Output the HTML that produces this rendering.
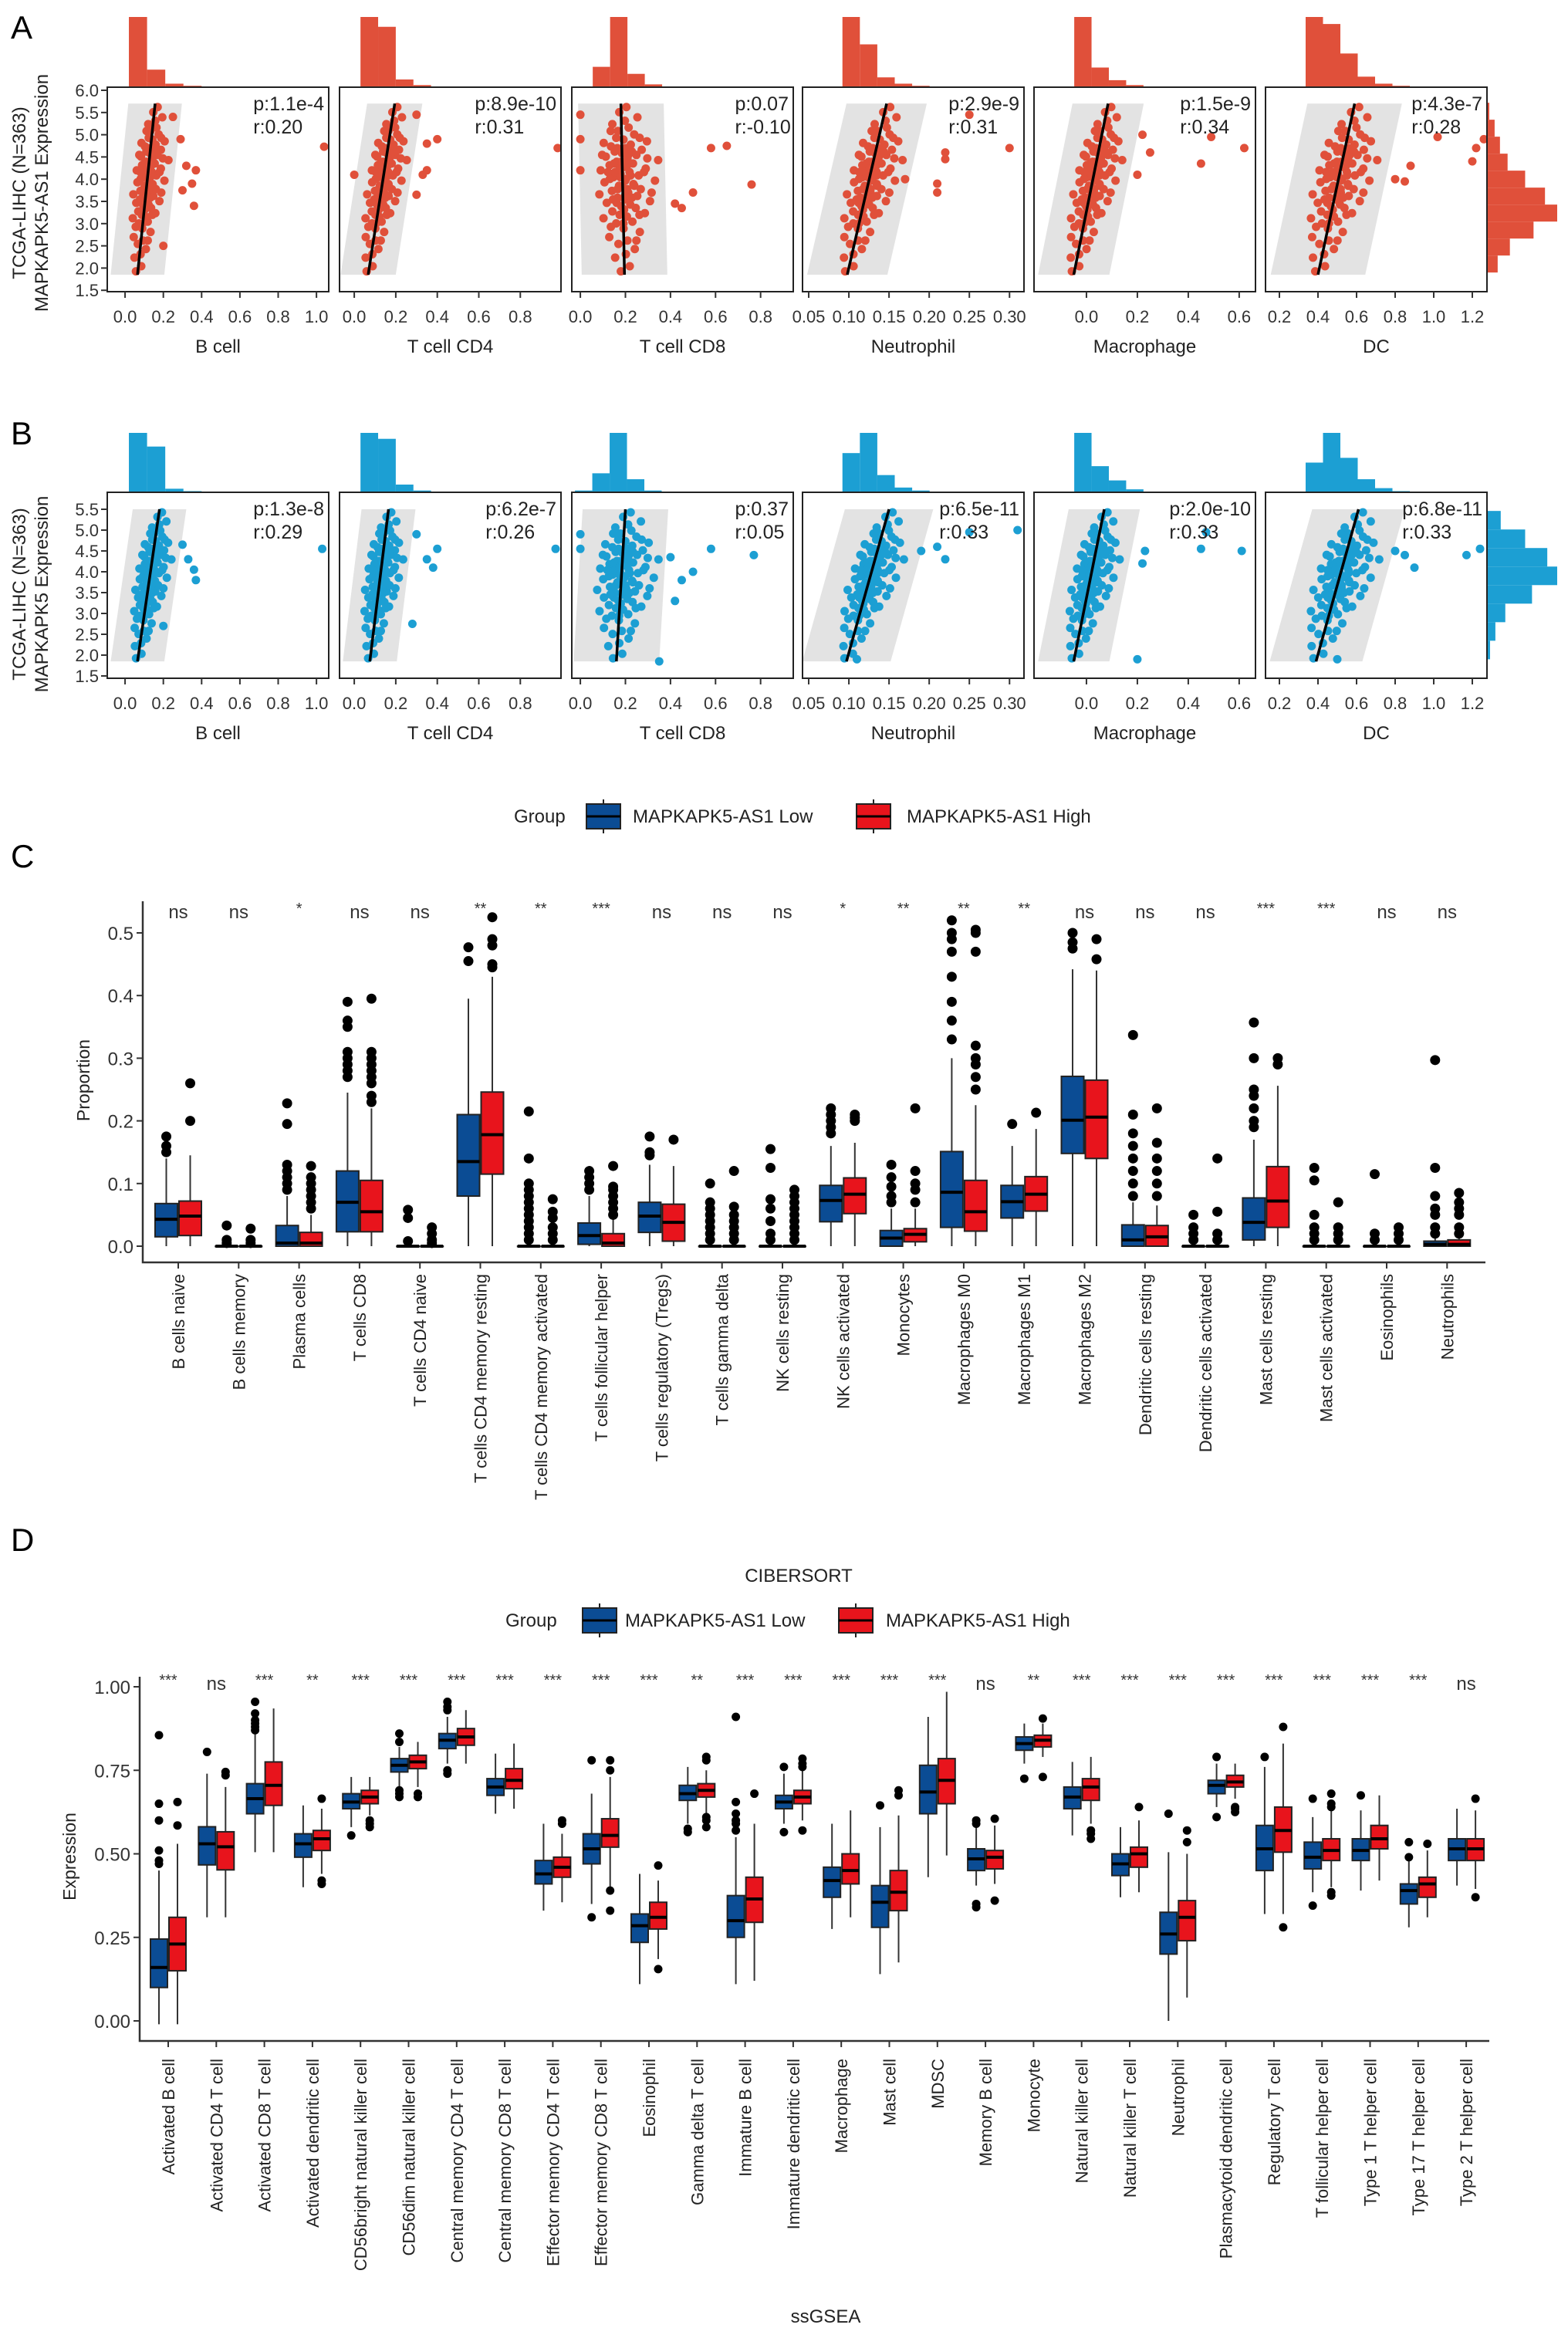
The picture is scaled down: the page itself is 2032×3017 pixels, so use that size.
<!DOCTYPE html>
<html><head><meta charset="utf-8">
<style>
html,body{margin:0;padding:0;background:#fff;}
svg{display:block;font-family:"Liberation Sans",Arial,sans-serif;}
</style></head>
<body>
<svg id="fig" xmlns="http://www.w3.org/2000/svg" width="2032" height="3017" viewBox="0 0 2032 3017"></svg>
<script>
// ---------------- DATA: scatter panels A/B ----------------
const scatterCellTypes = ['B cell','T cell CD4','T cell CD8','Neutrophil','Macrophage','DC'];
const pValuesA = ['p:1.1e-4','p:8.9e-10','p:0.07','p:2.9e-9','p:1.5e-9','p:4.3e-7'];
const rValuesA = ['r:0.20','r:0.31','r:-0.10','r:0.31','r:0.34','r:0.28'];
const pValuesB = ['p:1.3e-8','p:6.2e-7','p:0.37','p:6.5e-11','p:2.0e-10','p:6.8e-11'];
const rValuesB = ['r:0.29','r:0.26','r:0.05','r:0.33','r:0.33','r:0.33'];
const xDomains = [[-0.093,1.064],[-0.071,0.996],[-0.038,0.945],[0.0423,0.318],[-0.206,0.664],[0.128,1.276]];
const xTickVals = [[0,0.2,0.4,0.6,0.8,1.0],[0,0.2,0.4,0.6,0.8],[0,0.2,0.4,0.6,0.8],[0.05,0.10,0.15,0.20,0.25,0.30],[0,0.2,0.4,0.6],[0.2,0.4,0.6,0.8,1.0,1.2]];
const xTickDigits = [1,1,1,2,1,1];
const yTicksA = [1.5,2.0,2.5,3.0,3.5,4.0,4.5,5.0,5.5,6.0];
const yTicksB = [1.5,2.0,2.5,3.0,3.5,4.0,4.5,5.0,5.5];
const fitA = [[0.065,0.157],[0.067,0.195],[0.196,0.18],[0.098,0.147],[-0.05,0.085],[0.40,0.59]];
const fitB = [[0.065,0.18],[0.075,0.165],[0.16,0.20],[0.097,0.15],[-0.05,0.07],[0.39,0.61]];
const bandA = [0.14,0.133,0.19,0.05,0.14,0.245];
const bandB = [0.14,0.13,0.19,0.055,0.14,0.24];
const spreadA = [0.05,0.05,0.08,0.018,0.05,0.09];
const spreadB = [0.05,0.05,0.08,0.018,0.05,0.09];
const cloudOffsets = [[-0.2,0.02],[0.3,0.05],[-0.5,0.1],[0.1,0.12],[0.6,0.15],[-0.3,0.18],[0.2,0.2],[-0.8,0.22],[0.9,0.25],[0,0.27],[-0.4,0.3],[0.5,0.31],[-1.1,0.33],[0.2,0.34],[1.2,0.36],[-0.6,0.37],[0.7,0.39],[-0.1,0.4],[0.4,0.41],[-0.9,0.42],[1.5,0.43],[0.1,0.44],[-0.3,0.45],[0.8,0.46],[-1.3,0.47],[0.3,0.48],[-0.6,0.49],[1.0,0.5],[0,0.51],[-0.2,0.52],[0.6,0.53],[-1.0,0.54],[1.8,0.55],[0.2,0.56],[-0.5,0.57],[0.9,0.58],[-0.1,0.59],[0.4,0.6],[-1.2,0.61],[1.3,0.62],[0.1,0.63],[-0.7,0.64],[0.6,0.65],[-0.3,0.66],[2.0,0.67],[0.3,0.68],[-0.9,0.69],[0.8,0.7],[0,0.71],[-0.4,0.72],[1.1,0.73],[0.2,0.74],[-0.6,0.75],[0.5,0.76],[-1.0,0.77],[1.4,0.78],[0.1,0.79],[-0.3,0.8],[0.7,0.82],[-0.2,0.84],[0.4,0.86],[-0.5,0.88],[0.2,0.9],[0.9,0.92],[-0.1,0.95],[0.3,0.98],[-0.4,0.6],[0.5,0.45],[-0.2,0.35],[0.15,0.55],[-0.45,0.65],[0.35,0.7],[-0.15,0.62],[0.25,0.5],[-0.35,0.42],[0.05,0.38],[-0.25,0.74],[0.45,0.58],[-0.05,0.66],[0.65,0.52],[-0.7,0.56],[1.6,0.48],[-0.8,0.6],[0.0,0.3],[0.12,0.46],[-0.12,0.57],[0.28,0.64],[-0.28,0.5],[0.55,0.72],[-0.55,0.44],[1.2,0.6],[-1.1,0.7],[0.9,0.35],[-0.7,0.28],[1.4,0.68],[0.7,0.2],[-0.6,0.84],[1.0,0.8]];
const outliersA = [
 [[1.04,4.73],[0.29,4.9],[0.32,4.3],[0.37,4.2],[0.35,3.9],[0.36,3.4],[0.30,3.75],[0.25,5.4],[0.2,2.5]],
 [[0.98,4.7],[0.40,4.9],[0.33,4.1],[0.35,4.2],[0.30,3.65],[0.35,4.8],[0.30,5.45],[0.0,4.1]],
 [[0.65,4.75],[0.58,4.7],[0.76,3.88],[0.50,3.7],[0.45,3.35],[0.42,3.45],[0.0,5.45],[0.0,4.2],[0.0,4.9]],
 [[0.30,4.7],[0.22,4.45],[0.22,4.6],[0.25,5.45],[0.21,3.9],[0.21,3.7],[0.17,4.0]],
 [[0.62,4.7],[0.49,4.95],[0.45,4.35],[0.25,4.6],[0.22,5.0],[0.2,4.1]],
 [[1.22,4.7],[1.26,4.9],[1.02,4.95],[0.88,4.3],[0.80,4.0],[1.20,4.4],[0.85,3.95]]
];
const outliersB = [
 [[1.03,4.55],[0.36,4.05],[0.37,3.8],[0.33,4.3],[0.30,4.65],[0.2,2.7]],
 [[0.97,4.55],[0.40,4.55],[0.35,4.3],[0.28,2.75],[0.38,4.1],[0.3,4.9]],
 [[0.0,4.55],[0.0,4.9],[0.58,4.55],[0.77,4.4],[0.50,4.0],[0.45,3.8],[0.42,3.3],[0.35,1.85],[0.4,4.35]],
 [[0.31,5.0],[0.25,4.95],[0.21,4.6],[0.22,4.3],[0.11,1.9],[0.19,4.5]],
 [[0.61,4.5],[0.47,4.95],[0.45,4.55],[0.22,4.2],[0.20,1.9],[0.23,4.5]],
 [[1.24,4.55],[1.17,4.4],[0.85,4.4],[0.90,4.1],[0.50,1.9],[0.8,4.5]]
];
const histStartA = [0.02,0.03,0.055,0.092,-0.048,0.336];
const histWidthA = [0.095,0.085,0.077,0.0217,0.068,0.09];
const histCountsA = [[100,25,5,2],[100,86,11,3],[29,100,19,4,1,1],[100,61,14,5,2],[100,28,10,3],[100,90,48,15,5,2]];
const histStartB = [0.02,0.03,-0.024,0.092,-0.048,0.336];
const histWidthB = [0.095,0.085,0.077,0.0217,0.068,0.09];
const histCountsB = [[100,77,6,2],[100,90,13,3],[3,32,100,22,3,1,1],[66,100,29,8,3],[100,44,20,5],[50,100,58,22,7,2]];
const rightHistStartA = 1.9, rightHistWidthA = 0.382;
const rightHistCountsA = [13,29,60,91,75,49,26,16,9,2];
const rightHistStartB = 1.9, rightHistWidthB = 0.445;
const rightHistCountsB = [3,10,23,58,91,78,49,17];

// ---------------- DATA: CIBERSORT (C) ----------------
const ciberCategories = ['B cells naive','B cells memory','Plasma cells','T cells CD8','T cells CD4 naive','T cells CD4 memory resting','T cells CD4 memory activated','T cells follicular helper','T cells regulatory (Tregs)','T cells gamma delta','NK cells resting','NK cells activated','Monocytes','Macrophages M0','Macrophages M1','Macrophages M2','Dendritic cells resting','Dendritic cells activated','Mast cells resting','Mast cells activated','Eosinophils','Neutrophils'];
const ciberSig = ['ns','ns','*','ns','ns','**','**','***','ns','ns','ns','*','**','**','**','ns','ns','ns','***','***','ns','ns'];
const ciberLow = [[0,0.015,0.043,0.068,0.14],[0,0,0,0,0],[0,0,0.005,0.033,0.08],[0,0.023,0.07,0.12,0.245],[0,0,0,0,0],[0,0.08,0.135,0.21,0.395],[0,0,0,0,0],[0,0.003,0.017,0.037,0.08],[0,0.022,0.048,0.07,0.13],[0,0,0,0,0],[0,0,0,0,0],[0,0.039,0.073,0.097,0.16],[0,0,0.013,0.025,0.06],[0,0.03,0.086,0.151,0.30],[0,0.045,0.071,0.097,0.16],[0,0.148,0.201,0.271,0.442],[0,0,0.01,0.034,0.07],[0,0,0,0,0],[0,0.01,0.038,0.077,0.17],[0,0,0,0,0],[0,0,0,0,0],[0,0,0.003,0.008,0.015]];
const ciberHigh = [[0,0.017,0.048,0.072,0.145],[0,0,0,0,0],[0,0,0.005,0.022,0.05],[0,0.023,0.055,0.105,0.22],[0,0,0,0,0],[0,0.115,0.178,0.246,0.43],[0,0,0,0,0],[0,0,0.005,0.02,0.045],[0,0.008,0.038,0.067,0.128],[0,0,0,0,0],[0,0,0,0,0],[0,0.052,0.083,0.109,0.165],[0,0.007,0.019,0.028,0.06],[0,0.024,0.055,0.105,0.225],[0,0.056,0.083,0.111,0.187],[0,0.14,0.206,0.265,0.44],[0,0,0.015,0.033,0.065],[0,0,0,0,0],[0,0.03,0.072,0.127,0.256],[0,0,0,0,0],[0,0,0,0,0],[0,0,0.003,0.01,0.02]];
const ciberLowOut = [[0.15,0.16,0.175],[0.005,0.01,0.033],[0.09,0.1,0.11,0.12,0.13,0.195,0.228],[0.27,0.28,0.29,0.3,0.31,0.35,0.36,0.39],[0.008,0.045,0.058],[0.455,0.477],[0.01,0.02,0.03,0.04,0.05,0.06,0.07,0.08,0.09,0.1,0.14,0.215],[0.09,0.1,0.11,0.12],[0.145,0.15,0.175],[0.01,0.02,0.03,0.04,0.05,0.06,0.07,0.1],[0.01,0.02,0.04,0.06,0.075,0.125,0.155],[0.18,0.19,0.2,0.21,0.22],[0.07,0.08,0.095,0.11,0.13],[0.33,0.36,0.39,0.43,0.47,0.49,0.5,0.52],[0.195],[0.475,0.485,0.5],[0.08,0.1,0.12,0.14,0.16,0.18,0.21,0.337],[0.01,0.02,0.03,0.05],[0.19,0.2,0.22,0.24,0.25,0.3,0.357],[0.01,0.02,0.03,0.05,0.105,0.125],[0.01,0.02,0.115],[0.02,0.03,0.05,0.06,0.08,0.125,0.297]];
const ciberHighOut = [[0.2,0.26],[0.005,0.01,0.028],[0.06,0.07,0.08,0.09,0.1,0.11,0.128],[0.23,0.24,0.26,0.27,0.28,0.29,0.3,0.31,0.395],[0.005,0.01,0.02,0.03],[0.445,0.45,0.48,0.49,0.525],[0.01,0.02,0.03,0.045,0.055,0.075],[0.05,0.06,0.07,0.08,0.09,0.095,0.128],[0.17],[0.01,0.02,0.03,0.04,0.05,0.063,0.12],[0.01,0.02,0.03,0.04,0.05,0.06,0.07,0.08,0.09],[0.2,0.205,0.21],[0.07,0.09,0.1,0.12,0.22],[0.25,0.27,0.29,0.3,0.32,0.47,0.5,0.505],[0.213],[0.458,0.49],[0.08,0.1,0.12,0.14,0.165,0.22],[0.01,0.02,0.055,0.14],[0.29,0.3],[0.01,0.02,0.03,0.07],[0.01,0.02,0.03],[0.02,0.03,0.05,0.06,0.07,0.085]];
const ciberYTicks = [0.0,0.1,0.2,0.3,0.4,0.5];

// ---------------- DATA: ssGSEA (D) ----------------
const ssCategories = ['Activated B cell','Activated CD4 T cell','Activated CD8 T cell','Activated dendritic cell','CD56bright natural killer cell','CD56dim natural killer cell','Central memory CD4 T cell','Central memory CD8 T cell','Effector memory CD4 T cell','Effector memory CD8 T cell','Eosinophil','Gamma delta T cell','Immature B cell','Immature dendritic cell','Macrophage','Mast cell','MDSC','Memory B cell','Monocyte','Natural killer cell','Natural killer T cell','Neutrophil','Plasmacytoid dendritic cell','Regulatory T cell','T follicular helper cell','Type 1 T helper cell','Type 17 T helper cell','Type 2 T helper cell'];
const ssSig = ['***','ns','***','**','***','***','***','***','***','***','***','**','***','***','***','***','***','ns','**','***','***','***','***','***','***','***','***','ns'];
const ssLow = [[-0.01,0.10,0.16,0.245,0.45],[0.31,0.467,0.53,0.581,0.74],[0.505,0.62,0.665,0.71,0.86],[0.40,0.49,0.53,0.56,0.645],[0.58,0.635,0.655,0.68,0.73],[0.70,0.745,0.765,0.785,0.82],[0.77,0.815,0.84,0.86,0.91],[0.62,0.675,0.70,0.725,0.80],[0.33,0.41,0.44,0.48,0.59],[0.35,0.47,0.515,0.56,0.68],[0.11,0.235,0.285,0.32,0.44],[0.59,0.66,0.68,0.705,0.76],[0.11,0.25,0.30,0.375,0.55],[0.59,0.635,0.655,0.675,0.74],[0.275,0.37,0.42,0.46,0.59],[0.14,0.28,0.355,0.405,0.58],[0.43,0.62,0.685,0.765,0.91],[0.405,0.45,0.485,0.515,0.58],[0.77,0.81,0.83,0.85,0.89],[0.555,0.635,0.67,0.70,0.775],[0.37,0.435,0.47,0.50,0.58],[0.0,0.20,0.26,0.325,0.505],[0.64,0.68,0.705,0.72,0.77],[0.32,0.45,0.515,0.585,0.76],[0.385,0.455,0.49,0.535,0.61],[0.39,0.48,0.51,0.545,0.63],[0.28,0.35,0.39,0.41,0.49],[0.405,0.48,0.515,0.545,0.635]];
const ssHigh = [[-0.01,0.15,0.23,0.31,0.53],[0.31,0.452,0.521,0.566,0.70],[0.505,0.645,0.705,0.775,0.935],[0.44,0.51,0.545,0.57,0.635],[0.615,0.65,0.67,0.69,0.73],[0.70,0.755,0.775,0.795,0.835],[0.77,0.825,0.85,0.875,0.93],[0.635,0.695,0.72,0.755,0.83],[0.355,0.43,0.46,0.49,0.56],[0.40,0.52,0.555,0.605,0.73],[0.185,0.275,0.31,0.355,0.42],[0.60,0.67,0.69,0.71,0.75],[0.12,0.295,0.365,0.43,0.59],[0.60,0.65,0.67,0.69,0.75],[0.31,0.41,0.45,0.50,0.63],[0.175,0.33,0.385,0.45,0.615],[0.495,0.65,0.72,0.785,0.985],[0.41,0.455,0.49,0.51,0.585],[0.79,0.82,0.84,0.855,0.89],[0.59,0.66,0.70,0.725,0.79],[0.385,0.46,0.50,0.52,0.60],[0.07,0.24,0.31,0.36,0.50],[0.665,0.70,0.715,0.735,0.77],[0.32,0.505,0.57,0.64,0.83],[0.40,0.48,0.51,0.545,0.63],[0.42,0.515,0.545,0.585,0.675],[0.31,0.37,0.41,0.43,0.51],[0.395,0.48,0.515,0.545,0.63]];
const ssLowOut = [[0.47,0.48,0.51,0.6,0.65,0.855],[0.805],[0.87,0.88,0.89,0.9,0.92,0.955],[],[0.555],[0.67,0.68,0.69,0.835,0.86],[0.74,0.75,0.93,0.94,0.955],[],[],[0.31,0.78],[],[0.565,0.575],[0.57,0.59,0.6,0.62,0.655,0.91],[0.565,0.76],[],[0.645],[],[0.34,0.35,0.59,0.6],[0.725],[],[],[0.62],[0.61,0.79],[0.79],[0.345,0.665],[0.675],[0.49,0.535],[]];
const ssHighOut = [[0.585,0.655],[0.735,0.745],[],[0.41,0.42,0.665],[0.58,0.59,0.6],[0.67,0.68],[],[],[0.59,0.6],[0.33,0.39,0.75,0.78],[0.155,0.465],[0.58,0.6,0.61,0.78,0.79],[0.68],[0.57,0.76,0.77,0.785],[],[0.675,0.69],[],[0.36,0.605],[0.73,0.905],[0.545,0.56,0.57],[0.64],[0.535,0.57],[0.625,0.635,0.64],[0.28,0.88],[0.375,0.385,0.64,0.65,0.68],[],[0.53],[0.37,0.665]];
const ssYTicks = [0.00,0.25,0.50,0.75,1.00];

// ---------------- DRAW ----------------
const NS = 'http://www.w3.org/2000/svg';
const svg = document.getElementById('fig');
function mk(tag, attrs, parent){
  const e = document.createElementNS(NS, tag);
  for (const k in attrs) e.setAttribute(k, attrs[k]);
  (parent || svg).appendChild(e);
  return e;
}
function txt(str, attrs, parent){
  const e = mk('text', attrs, parent);
  e.textContent = str;
  return e;
}
const RED = '#E0503A', BLUE = '#1C9FD3';
const BOXBLUE = '#0B4C94', BOXRED = '#E8141C';

[['A',14,50],['B',14,576],['C',14,1124],['D',14,2010]].forEach(function(d){
  const t = txt(d[0], {x:d[1], y:d[2], 'font-size':42, fill:'#000'});
  
  
});

const panelLefts = [139,440,741,1040,1340,1640];
const panelW = 287;

function drawScatterRow(cfg){
  const g = mk('g', {});
  
  
  const yScale = function(v){ return cfg.yTop + (cfg.yMax - v) * cfg.yPer; };
  for (let i = 0; i < 6; i++){
    const L = panelLefts[i], dom = xDomains[i];
    const xs = function(v){ return L + (v - dom[0]) / (dom[1] - dom[0]) * panelW; };
    const pg = mk('g', {}, g);
    
    
    const counts = cfg.hc[i], hmax = Math.max.apply(null, counts);
    for (let b = 0; b < counts.length; b++){
      const x0 = xs(cfg.hs[i] + b * cfg.hw[i]), x1 = xs(cfg.hs[i] + (b+1) * cfg.hw[i]);
      const h = counts[b] / hmax * cfg.histH;
      const r = mk('rect', {x:x0, y:cfg.boxTop - h, width:x1 - x0, height:h, fill:cfg.col}, pg);
      
      
    }
    const clipId = cfg.prefix + 'clip' + i;
    const cp = mk('clipPath', {id:clipId}, pg);
    mk('rect', {x:L, y:cfg.boxTop, width:panelW, height:cfg.boxBot - cfg.boxTop}, cp);
    const inner = mk('g', {'clip-path':'url(#' + clipId + ')'}, pg);
    const fit = cfg.fit[i], hw = cfg.band[i];
    const yb = yScale(cfg.vLo), yt = yScale(cfg.vHi);
    const band = mk('polygon', {points: [xs(fit[0]-hw)+','+yb, xs(fit[0]+hw)+','+yb, xs(fit[1]+hw)+','+yt, xs(fit[1]-hw)+','+yt].join(' '), fill:'#E3E3E3'}, inner);
    
    
    const sx = cfg.spread[i];
    cloudOffsets.forEach(function(o){
      const v = cfg.vLo + o[1] * (cfg.vHi - cfg.vLo);
      const xv = fit[0] + o[1] * (fit[1] - fit[0]) + o[0] * sx;
      const c = mk('circle', {cx:xs(xv), cy:yScale(v), r:5.5, fill:cfg.col}, inner);
      
      
    });
    cfg.out[i].forEach(function(o){
      const c = mk('circle', {cx:xs(o[0]), cy:yScale(o[1]), r:5.5, fill:cfg.col}, inner);
      
      
    });
    const ln = mk('line', {x1:xs(fit[0]), y1:yb, x2:xs(fit[1]), y2:yt, stroke:'#000', 'stroke-width':3.5}, inner);
    
    
    const frame = mk('rect', {x:L, y:cfg.boxTop, width:panelW, height:cfg.boxBot - cfg.boxTop, fill:'none', stroke:'#222', 'stroke-width':2}, pg);
    
    
    const pt = txt(cfg.p[i], {x:L + panelW - 6, y:cfg.boxTop + 30, 'text-anchor':'end', 'font-size':25, fill:'#222'}, pg);
    
    
    let pw = 0;
    try { pw = pt.getComputedTextLength(); } catch(e) { pw = cfg.p[i].length * 13; }
    const rt = txt(cfg.r[i], {x:L + panelW - 6 - pw, y:cfg.boxTop + 60, 'font-size':25, fill:'#222'}, pg);
    
    
    xTickVals[i].forEach(function(v){
      const x = xs(v);
      mk('line', {x1:x, y1:cfg.boxBot, x2:x, y2:cfg.boxBot + 8, stroke:'#333', 'stroke-width':2}, pg);
      const tl = txt(v.toFixed(xTickDigits[i]), {x:x, y:cfg.boxBot + 40, 'text-anchor':'middle', 'font-size':22, fill:'#333'}, pg);
      
      
    });
    const xt = txt(scatterCellTypes[i], {x:L + panelW/2, y:cfg.boxBot + 79, 'text-anchor':'middle', 'font-size':24, fill:'#222'}, pg);
    
    
  }
  cfg.yTicks.forEach(function(v){
    const y = yScale(v);
    mk('line', {x1:131, y1:y, x2:139, y2:y, stroke:'#333', 'stroke-width':2}, g);
    const tl = txt(v.toFixed(1), {x:128, y:y + 8, 'text-anchor':'end', 'font-size':22, fill:'#333'}, g);
    
    
  });
  const yt1 = txt('TCGA-LIHC (N=363)', {x:0, y:0, transform:'translate(33,' + cfg.yTitleC + ') rotate(-90)', 'text-anchor':'middle', 'font-size':24, fill:'#222'}, g);
  
  
  const yt2 = txt(cfg.gene + ' Expression', {x:0, y:0, transform:'translate(62,' + cfg.yTitleC + ') rotate(-90)', 'text-anchor':'middle', 'font-size':24, fill:'#222'}, g);
  
  
  const rmax = Math.max.apply(null, cfg.rc);
  for (let b = 0; b < cfg.rc.length; b++){
    const y0 = yScale(cfg.rs + (b+1) * cfg.rw), y1 = yScale(cfg.rs + b * cfg.rw);
    const w = cfg.rc[b] / rmax * 90;
    const r = mk('rect', {x:1928, y:y0, width:w, height:y1 - y0, fill:cfg.col}, g);
    
    
  }
}

drawScatterRow({name:'panel-a-scatter-row', prefix:'a', col:RED, boxTop:113, boxBot:378, yTop:117, yMax:6.0, yPer:57.6, histH:91, vLo:1.85, vHi:5.7,
  hs:histStartA, hw:histWidthA, hc:histCountsA, fit:fitA, band:bandA, spread:spreadA, out:outliersA, p:pValuesA, r:rValuesA,
  yTicks:yTicksA, gene:'MAPKAPK5-AS1', yTitleC:250, rs:rightHistStartA, rw:rightHistWidthA, rc:rightHistCountsA});
drawScatterRow({name:'panel-b-scatter-row', prefix:'b', col:BLUE, boxTop:638, boxBot:879, yTop:660, yMax:5.5, yPer:54, histH:77, vLo:1.85, vHi:5.5,
  hs:histStartB, hw:histWidthB, hc:histCountsB, fit:fitB, band:bandB, spread:spreadB, out:outliersB, p:pValuesB, r:rValuesB,
  yTicks:yTicksB, gene:'MAPKAPK5', yTitleC:770, rs:rightHistStartB, rw:rightHistWidthB, rc:rightHistCountsB});

function legend(y, gx, k1, t1, k2, t2, name){
  const g = mk('g', {});
  
  
  txt('Group', {x:gx, y:y + 8, 'font-size':24, fill:'#222'}, g);
  [[k1, BOXBLUE, 'MAPKAPK5-AS1 Low', t1],[k2, BOXRED, 'MAPKAPK5-AS1 High', t2]].forEach(function(d){
    const it = mk('g', {}, g);
    
    
    mk('line', {x1:d[0] + 22, y1:y - 22, x2:d[0] + 22, y2:y + 22, stroke:'#222', 'stroke-width':2}, it);
    mk('rect', {x:d[0], y:y - 16, width:44, height:32, fill:d[1], stroke:'#222', 'stroke-width':2}, it);
    mk('line', {x1:d[0], y1:y, x2:d[0] + 44, y2:y, stroke:'#000', 'stroke-width':3}, it);
    txt(d[2], {x:d[3], y:y + 8, 'font-size':24, fill:'#222'}, it);
  });
}
legend(1058, 666, 760, 820, 1110, 1175, 'legend-c');
legend(2100, 655, 755, 810, 1087, 1148, 'legend-d');

function drawBoxChart(cfg){
  const g = mk('g', {});
  
  
  const ys = function(v){ return cfg.y0 - v * cfg.yPer; };
  const xs = function(i){ return cfg.x0 + i * cfg.step; };
  const ax = mk('path', {d:'M' + cfg.axisX + ',' + cfg.axisTop + ' V' + cfg.axisBot + ' H' + cfg.axisRight, fill:'none', stroke:'#333', 'stroke-width':2.5}, g);
  
  
  cfg.yTicks.forEach(function(v){
    const y = ys(v);
    mk('line', {x1:cfg.axisX - 8, y1:y, x2:cfg.axisX, y2:y, stroke:'#333', 'stroke-width':2}, g);
    const t = txt(v.toFixed(cfg.yDigits), {x:cfg.axisX - 12, y:y + 9, 'text-anchor':'end', 'font-size':24, fill:'#333'}, g);
    
    
  });
  const yt = txt(cfg.yTitle, {x:0, y:0, transform:'translate(' + cfg.yTitleX + ',' + cfg.yTitleY + ') rotate(-90)', 'text-anchor':'middle', 'font-size':23, fill:'#222'}, g);
  
  
  const xt = txt(cfg.xTitle, {x:cfg.xTitleX, y:cfg.xTitleY, 'text-anchor':'middle', 'font-size':24, fill:'#222'}, g);
  
  
  cfg.cats.forEach(function(cat, i){
    const cx = xs(i);
    const cg = mk('g', {}, g);
    
    
    mk('line', {x1:cx, y1:cfg.axisBot, x2:cx, y2:cfg.axisBot + 8, stroke:'#333', 'stroke-width':2}, cg);
    const lab = txt(cat, {x:0, y:0, transform:'translate(' + (cx + 8) + ',' + cfg.labelY + ') rotate(-90)', 'text-anchor':'end', 'font-size':22, fill:'#222'}, cg);
    
    
    const s = cfg.sig[i];
    const st = txt(s, {x:cx, y:cfg.sigY + (s === 'ns' ? 0 : -6), 'text-anchor':'middle', 'font-size':(s === 'ns' ? 24 : 20), fill:'#333'}, cg);
    
    
    [[cfg.low[i], cfg.lowOut[i], BOXBLUE, -cfg.off, 'low'],[cfg.high[i], cfg.highOut[i], BOXRED, cfg.off, 'high']].forEach(function(d){
      const q = d[0], bx = cx + d[3], bw = cfg.bw;
      const bg = mk('g', {}, cg);
      
      
      mk('line', {x1:bx, y1:ys(q[0]), x2:bx, y2:ys(q[4]), stroke:'#333', 'stroke-width':2}, bg);
      mk('rect', {x:bx - bw/2, y:ys(q[3]), width:bw, height:Math.max(ys(q[1]) - ys(q[3]), 0.5), fill:d[2], stroke:'#222', 'stroke-width':2}, bg);
      mk('line', {x1:bx - bw/2, y1:ys(q[2]), x2:bx + bw/2, y2:ys(q[2]), stroke:'#000', 'stroke-width':4}, bg);
      d[1].forEach(function(v){
        const c = mk('circle', {cx:bx, cy:ys(v), r:cfg.dotR, fill:'#000'}, bg);
        
        
      });
    });
  });
}

drawBoxChart({name:'panel-c-cibersort-boxplot', cats:ciberCategories, sig:ciberSig, low:ciberLow, high:ciberHigh, lowOut:ciberLowOut, highOut:ciberHighOut,
  yTicks:ciberYTicks, yDigits:1, y0:1615, yPer:812, x0:231, step:78.3, off:15.5, bw:29, dotR:6.5,
  axisX:185, axisTop:1168, axisBot:1636, axisRight:1925, labelY:1651, sigY:1190,
  yTitle:'Proportion', yTitleX:116, yTitleY:1400, xTitle:'CIBERSORT', xTitleX:1035, xTitleY:2050});
drawBoxChart({name:'panel-d-ssgsea-boxplot', cats:ssCategories, sig:ssSig, low:ssLow, high:ssHigh, lowOut:ssLowOut, highOut:ssHighOut,
  yTicks:ssYTicks, yDigits:2, y0:2619, yPer:433, x0:218, step:62.3, off:12, bw:22, dotR:5.5,
  axisX:181, axisTop:2173, axisBot:2645, axisRight:1930, labelY:2668, sigY:2190,
  yTitle:'Expression', yTitleX:98, yTitleY:2406, xTitle:'ssGSEA', xTitleX:1070, xTitleY:3010});
</script>
</body></html>
